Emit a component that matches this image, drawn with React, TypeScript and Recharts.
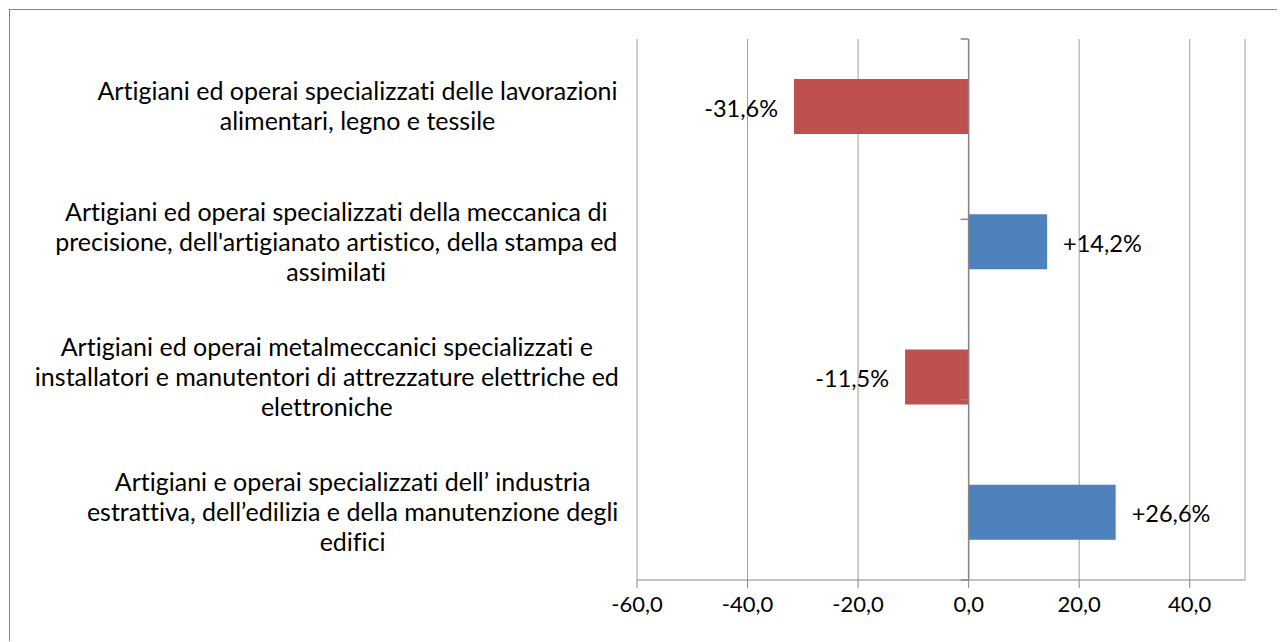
import React from "react";
import {
  BarChart,
  Bar,
  XAxis,
  YAxis,
  CartesianGrid,
  ReferenceLine,
  LabelList,
  Cell,
} from "recharts";

const categories: string[] = [
  "Artigiani ed operai specializzati delle lavorazioni\nalimentari, legno e tessile",
  "Artigiani ed operai specializzati della meccanica di\nprecisione, dell'artigianato artistico, della stampa ed\nassimilati",
  "Artigiani ed operai metalmeccanici specializzati e\ninstallatori e manutentori di attrezzature elettriche ed\nelettroniche",
  "Artigiani e operai specializzati dell\u2019 industria\nestrattiva, dell\u2019edilizia e della manutenzione degli\nedifici",
];
const values: number[] = [-31.6, 14.2, -11.5, 26.6];
const xTicks: number[] = [-60, -40, -20, 0, 20, 40];
const xDomain: number[] = [-60, 50];
const boundaries: number[] = [0, 1, 2, 3, 4];

const data = categories.map((name, i) => ({ name, value: values[i] }));

const FONT = "Lato, 'Open Sans', sans-serif";
const CAT_FS = 25;
const TICK_FS = 22;
const LABEL_FS = 23.5;
const AXIS = "#868686";
const GRID = "#9f9f9f";
const RED = "#C0504D";
const BLUE = "#4F81BD";
const NOLIG: React.CSSProperties = {
  fontVariantLigatures: "none",
  fontFeatureSettings: '"liga" 0, "clig" 0, "dlig" 0',
};

if (typeof document !== "undefined") {
  document.documentElement.style.overflow = "hidden";
  document.body.style.overflow = "hidden";
}

let ctx: CanvasRenderingContext2D | null = null;
function measure(t: string): number {
  if (!ctx && typeof document !== "undefined") {
    ctx = document.createElement("canvas").getContext("2d");
  }
  if (!ctx) return t.length * CAT_FS * 0.41;
  ctx.font = `${CAT_FS}px Lato`;
  return ctx.measureText(t).width;
}

function fmtTick(v: number): string {
  return v.toFixed(1).replace(".", ",");
}
function fmtLabel(v: number): string {
  return (v > 0 ? "+" : "") + v.toFixed(1).replace(".", ",") + "%";
}

function CategoryTick(props: any) {
  const { x, y, payload } = props;
  const lines = String(payload.value).split("\n");
  const maxW = Math.max(...lines.map(measure));
  const cx = x - 19 - maxW / 2;
  const lh = 30;
  const startY = y - ((lines.length - 1) * lh) / 2;
  return (
    <text
      x={cx}
      y={startY}
      textAnchor="middle"
      fontFamily={FONT}
      fontSize={CAT_FS}
      fill="#000"
      style={NOLIG}
    >
      {lines.map((l, i) => (
        <tspan key={i} x={cx} y={startY + i * lh} dy="0.35em">
          {l}
        </tspan>
      ))}
    </text>
  );
}

function ValueLabel(props: any) {
  const { x, y, width, height, value } = props;
  const v = Number(value);
  const left = Math.min(x, x + width);
  const right = Math.max(x, x + width);
  const tx = v < 0 ? left - 16 : right + 16;
  return (
    <text
      x={tx}
      y={y + height / 2 + 2}
      dy="0.35em"
      textAnchor={v < 0 ? "end" : "start"}
      fontFamily={FONT}
      fontSize={LABEL_FS}
      fill="#000"
      style={NOLIG}
    >
      {fmtLabel(v)}
    </text>
  );
}

export default function App() {
  return (
    <div
      style={{
        position: "relative",
        left: 1,
        top: 1,
        width: 1276,
        height: 633,
        boxSizing: "border-box",
        borderTop: `1px solid ${AXIS}`,
        borderLeft: `1px solid ${AXIS}`,
        background: "#fff",
      }}
    >
      <BarChart
        width={1275}
        height={632}
        data={data}
        layout="vertical"
        margin={{ top: 29, right: 40, bottom: 22, left: 0 }}
        barSize={55}
      >
        <CartesianGrid horizontal={false} stroke={GRID} strokeWidth={1} />
        <XAxis
          type="number"
          domain={xDomain}
          ticks={xTicks}
          allowDataOverflow
          interval={0}
          tickFormatter={fmtTick}
          axisLine={{ stroke: AXIS }}
          tickLine={{ stroke: AXIS }}
          tickSize={8}
          tickMargin={8}
          height={40}
          tick={{ fill: "#000", fontSize: TICK_FS, fontFamily: FONT }}
        />
        <YAxis
          type="category"
          dataKey="name"
          width={627}
          axisLine={false}
          tickLine={false}
          tickSize={0}
          tickMargin={0}
          interval={0}
          tick={<CategoryTick />}
        />
        <YAxis
          yAxisId="b"
          type="number"
          domain={[0, 4]}
          allowDataOverflow
          hide
        />
        <Bar dataKey="value" isAnimationActive={false}>
          {data.map((d, i) => (
            <Cell key={i} fill={d.value < 0 ? RED : BLUE} />
          ))}
          <LabelList dataKey="value" content={<ValueLabel />} />
        </Bar>
        <ReferenceLine x={0} stroke={AXIS} strokeWidth={1.5} />
        {boundaries.map((b) => (
          <ReferenceLine
            key={b}
            yAxisId="b"
            segment={[
              { x: -1.45, y: b },
              { x: 0, y: b },
            ]}
            stroke={AXIS}
            strokeWidth={1.5}
          />
        ))}
      </BarChart>
    </div>
  );
}
